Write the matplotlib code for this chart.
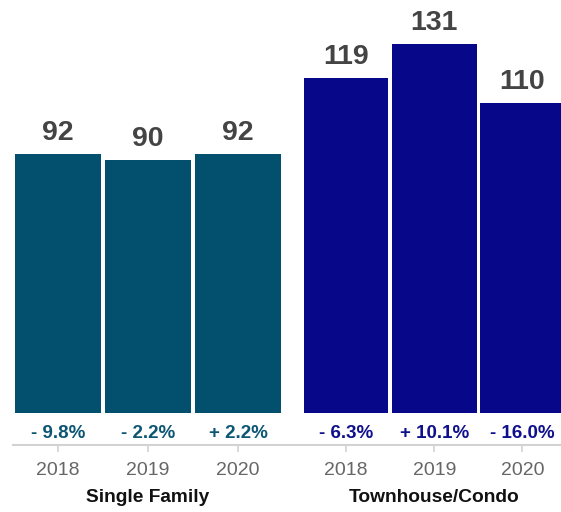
import matplotlib.pyplot as plt
from matplotlib import transforms

plt.rcParams["font.family"] = ["Liberation Sans", "DejaVu Sans"]

years = ["2018", "2019", "2020"]
groups = ["Single Family", "Townhouse/Condo"]
single_family = [92, 90, 92]
townhouse = [119, 131, 110]
sf_change = ["- 9.8%", "- 2.2%", "+ 2.2%"]
th_change = ["- 6.3%", "+ 10.1%", "- 16.0%"]

sf_color = "#03506e"
th_color = "#070789"
sf_text = "#0c5674"
th_text = "#10108c"

W, H = 561, 512
fig = plt.figure(figsize=(W / 100, H / 100), dpi=100)
# axes from the grey baseline (y=445px) to the top, x from 13px to the right edge
ax = fig.add_axes([13 / W, (H - 445) / H, 1 - 13 / W, 445 / H])

sf_x = [0, 1, 2]
th_x = [3.2, 4.18, 5.16]
px_per_unit = 90
ax.set_xlim(-(58 - 13) / px_per_unit, (561 - 58) / px_per_unit)
px_per_val = 2.815
ax.set_ylim(-(445 - 413) / px_per_val, 413 / px_per_val)

ax.bar(sf_x, single_family, width=0.95, color=sf_color)
ax.bar(th_x, townhouse, width=0.94, color=th_color)

for xs, vals, changes, col in [(sf_x, single_family, sf_change, sf_text),
                               (th_x, townhouse, th_change, th_text)]:
    for x, v, c in zip(xs, vals, changes):
        ax.annotate(str(v), (x, v), xytext=(0, 10), textcoords="offset points",
                    ha="center", va="baseline", fontsize=20.5,
                    fontweight="bold", color="#444444")
        ax.text(x, -(433 - 413) / px_per_val, c, ha="center", va="center",
                fontsize=13.5, fontweight="bold", color=col)

for s in ["top", "right", "left"]:
    ax.spines[s].set_visible(False)
ax.spines["bottom"].set_color("#d2d2d2")
ax.spines["bottom"].set_linewidth(1.5)
ax.set_yticks([])
ax.set_xticks(sf_x + th_x)
ax.set_xticklabels(years + years, fontsize=14, color="#666666")
ax.tick_params(axis="x", length=5, width=1.2, color="#d2d2d2", pad=7)

trans = transforms.blended_transform_factory(ax.transData, fig.transFigure)
for label, xs in zip(groups, [sf_x, th_x]):
    fig.text(xs[1], (H - 497) / H, label, transform=trans, ha="center",
             va="center", fontsize=13.8, fontweight="bold", color="#111111")

fig.savefig("out.png", dpi=100)
